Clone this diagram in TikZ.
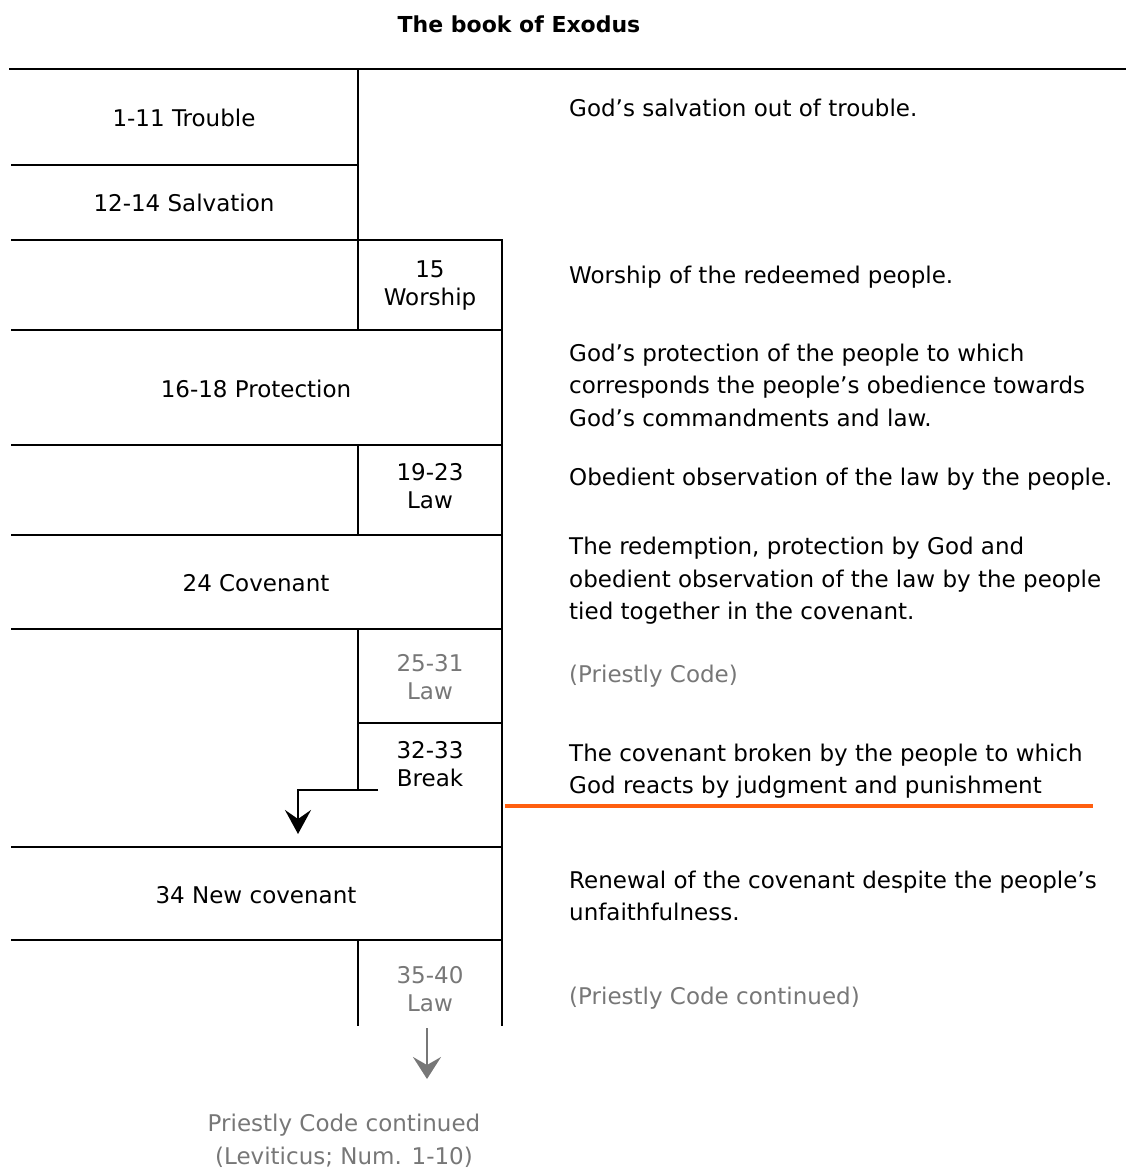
\documentclass[tikz,border=0pt]{standalone}
\usepackage{fontspec}
\usetikzlibrary{arrows.meta}
\setmainfont{DejaVu Sans}
\begin{document}
\begin{tikzpicture}[x=1pt,y=-1pt,
  rule/.style={line width=2.2pt,line cap=rect},
  lbl/.style={font=\fontsize{23}{28}\selectfont,align=center,inner sep=0pt},
  dimlbl/.style={lbl,text=codegray},
  note/.style={font=\fontsize{23}{32.5}\selectfont,align=left,anchor=west,inner sep=0pt},
  dimnote/.style={note,text=codegray}]
\definecolor{codegray}{HTML}{777777}
\definecolor{breakorange}{HTML}{FF5F10}
\useasboundingbox (0,0) rectangle (1125,1170);

% title
\node[font=\fontsize{22}{24}\selectfont\bfseries] (title) at (519,24) {The book of Exodus};

% table rules
\draw[rule] (10,69) -- (1125,69);
\draw[rule] (358,69) -- (358,240);
\draw[rule] (12,165) -- (358,165);
\draw[rule] (12,240) -- (502,240);
\draw[rule] (502,240) -- (502,1025);
\draw[rule] (358,240) -- (358,330);
\draw[rule] (12,330) -- (502,330);
\draw[rule] (12,445) -- (502,445);
\draw[rule] (358,445) -- (358,535);
\draw[rule] (12,535) -- (502,535);
\draw[rule] (12,629) -- (502,629);
\draw[rule] (358,629) -- (358,790);
\draw[rule] (358,723) -- (502,723);
\draw[rule] (12,847) -- (502,847);
\draw[rule] (12,940) -- (502,940);
\draw[rule] (358,940) -- (358,1025);

% section labels
\node[lbl] (trouble) at (184,118) {1-11 Trouble};
\node[lbl] (salvation) at (184,203) {12-14 Salvation};
\node[lbl] (worship) at (430,286) {15\\Worship};
\node[lbl] (protection) at (256,389) {16-18 Protection};
\node[lbl] (law1) at (430,486) {19-23\\Law};
\node[lbl] (covenant) at (256,583) {24 Covenant};
\node[dimlbl] (law2) at (430,677) {25-31\\Law};
\node[lbl] (break) at (430,764) {32-33\\Break};
\node[lbl] (newcov) at (256,895) {34 New covenant};
\node[dimlbl] (law3) at (430,989) {35-40\\Law};
\node[dimlbl,font=\fontsize{23}{33}\selectfont] (cont) at (344,1141) {Priestly Code continued\\(Leviticus; Num. 1-10)};

% arrows
\coordinate (bk) at (378,790);
\coordinate (bkend) at (298,834);
\draw[line width=2.5pt,-{Stealth[length=24pt,width=26pt,inset=9pt]}] (bk) -| (bkend);
\coordinate (lawtail) at (427,1028);
\coordinate (lawhead) at (427,1079);
\draw[line width=2.5pt,codegray,-{Stealth[length=22pt,width=28pt,inset=8pt]}] (lawtail) -- (lawhead);

% notes
\node[note] (n1) at (569,108) {God’s salvation out of trouble.};
\node[note] (n2) at (569,277) {Worship of the redeemed people.};
\node[note] (n3) at (569,385) {God’s protection of the people to which\\corresponds the people’s obedience towards\\God’s commandments and law.};
\node[note] (n4) at (569,479) {Obedient observation of the law by the people.};
\node[note] (n5) at (569,581) {The redemption, protection by God and\\obedient observation of the law by the people\\tied together in the covenant.};
\node[dimnote] (n6) at (569,676) {(Priestly Code)};
\node[note] (n7) at (569,771) {The covenant broken by the people to which\\God reacts by judgment and punishment};
\node[note] (n8) at (569,896) {Renewal of the covenant despite the people’s\\unfaithfulness.};
\node[dimnote] (n9) at (569,998) {(Priestly Code continued)};

% orange divider
\coordinate (oa) at (505,806);
\coordinate (ob) at (1093,806);
\draw[line width=3.2pt,breakorange] (oa) -- (ob);
\end{tikzpicture}
\end{document}
